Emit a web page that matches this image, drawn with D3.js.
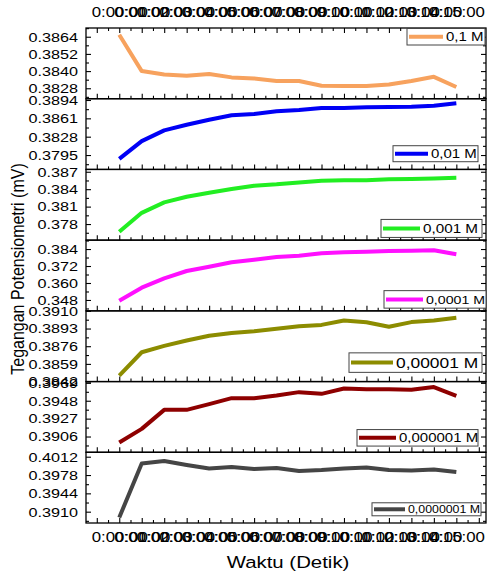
<!DOCTYPE html>
<html>
<head>
<meta charset="utf-8">
<script src="https://cdn.jsdelivr.net/npm/d3@7"></script>
<style>
  body { margin: 0; background: #fff; }
  text { font-family: "Liberation Sans", Arial, sans-serif; fill: #000; }
</style>
</head>
<body>
<svg id="chart" width="488" height="575"></svg>
<script>
// Time axis: one reading per step
const timeLabels = ["0:00:00","0:01:00","0:02:00","0:03:00","0:04:00","0:05:00","0:06:00","0:07:00",
                    "0:08:00","0:09:00","0:10:00","0:11:00","0:12:00","0:13:00","0:14:00","0:15:00"];
const steps = d3.range(timeLabels.length);

// Concentration series (legend names)
const seriesNames = ["0,1 M", "0,01 M", "0,001 M", "0,0001 M", "0,00001 M", "0,000001 M", "0,0000001 M"];
const seriesColors = ["#f7a25e", "#0000f5", "#22ee22", "#ff10ff", "#8c8c00", "#8e0000", "#454545"];

// Potentiometric voltage readings (mV)
const conc1e1 = [0.38654, 0.38400, 0.38376, 0.38367, 0.38379, 0.38356, 0.38349, 0.38331,
                 0.38331, 0.38298, 0.38296, 0.38296, 0.38307, 0.38331, 0.38360, 0.38289];
const conc1e2 = [0.37882, 0.38201, 0.38394, 0.38495, 0.38585, 0.38664, 0.38688, 0.38736,
                 0.38760, 0.38796, 0.38796, 0.38808, 0.38814, 0.38819, 0.38837, 0.38881];
const conc1e3 = [0.37666, 0.37993, 0.38172, 0.38269, 0.38338, 0.38402, 0.38459, 0.38483,
                 0.38517, 0.38545, 0.38552, 0.38552, 0.38569, 0.38574, 0.38586, 0.38597];
const conc1e4 = [0.34750, 0.35668, 0.36331, 0.36847, 0.37150, 0.37461, 0.37645, 0.37835,
                 0.37927, 0.38096, 0.38167, 0.38209, 0.38259, 0.38280, 0.38308, 0.38026];
const conc1e5 = [0.38478, 0.38702, 0.38763, 0.38815, 0.38861, 0.38886, 0.38904, 0.38928,
                 0.38953, 0.38965, 0.39008, 0.38990, 0.38947, 0.38992, 0.39008, 0.39033];
const conc1e6 = [0.38990, 0.39150, 0.39373, 0.39373, 0.39440, 0.39510, 0.39510, 0.39541,
                 0.39581, 0.39561, 0.39623, 0.39616, 0.39616, 0.39608, 0.39640, 0.39537];
const conc1e7 = [0.38992, 0.39994, 0.40040, 0.39966, 0.39901, 0.39929, 0.39892, 0.39910,
                 0.39855, 0.39873, 0.39901, 0.39920, 0.39873, 0.39864, 0.39883, 0.39836];

// Y tick labels per panel
const yTicks1 = ["0.3828", "0.3840", "0.3852", "0.3864"];
const yTicks2 = ["0.3795", "0.3828", "0.3861", "0.3894"];
const yTicks3 = ["0.378", "0.381", "0.384", "0.387"];
const yTicks4 = ["0.348", "0.360", "0.372", "0.384"];
const yTicks5 = ["0.3842", "0.3859", "0.3876", "0.3893", "0.3910"];
const yTicks6 = ["0.3906", "0.3927", "0.3948", "0.3969"];
const yTicks7 = ["0.3910", "0.3944", "0.3978", "0.4012"];

// Y ranges per panel
const yDomain1 = [0.38207, 0.38701];
const yDomain2 = [0.37691, 0.38963];
const yDomain3 = [0.37523, 0.38740];
const yDomain4 = [0.34031, 0.39028];
const yDomain5 = [0.38420, 0.39100];
const yDomain6 = [0.38875, 0.39705];
const yDomain7 = [0.38890, 0.40202];

const panels = [
  { values: conc1e1, ticks: yTicks1, domain: yDomain1 },
  { values: conc1e2, ticks: yTicks2, domain: yDomain2 },
  { values: conc1e3, ticks: yTicks3, domain: yDomain3 },
  { values: conc1e4, ticks: yTicks4, domain: yDomain4 },
  { values: conc1e5, ticks: yTicks5, domain: yDomain5 },
  { values: conc1e6, ticks: yTicks6, domain: yDomain6 },
  { values: conc1e7, ticks: yTicks7, domain: yDomain7 }
].map((p, i) => ({ ...p, name: seriesNames[i], color: seriesColors[i] }));

// Legend box layout inside each panel: [x0, x1, top offset, bottom offset, sample end, font size]
const legendLayout = [
  [407, 485, 0.5, 17, 443, 12.5],
  [393, 478, 47, 63, 428, 12.5],
  [381, 482, 50, 68, 420, 12.7],
  [384, 486, 50.5, 68, 423, 11.8],
  [349, 482, 42, 61.5, 393, 14.5],
  [357, 478, 48, 64.5, 396, 12.5],
  [372, 481, 50.5, 63.5, 405, 10.3]
];

const SX = 1.2; // horizontal glyph stretch
const W = 488, H = 575;
const plotLeft = 86, plotRight = 486, plotTop = 28, plotBottom = 523;
const ph = (plotBottom - plotTop) / panels.length;

const svg = d3.select("#chart");
svg.append("rect").attr("width", W).attr("height", H).attr("fill", "#fff");

const x = d3.scaleLinear().domain([-1.48, 16.32]).range([plotLeft, plotRight]);
const majorX = d3.range(-1, 17, 1);
const minorX = d3.range(-1.5, 16.6, 1).filter(v => v > -1.48 && v < 16.32);

function styleAxis(g) {
  g.select(".domain").remove();
  g.selectAll(".tick line").attr("stroke", "#000").attr("stroke-width", 1.1);
}

panels.forEach((p, i) => {
  const y0 = plotTop + i * ph, y1 = y0 + ph;
  const y = d3.scaleLinear().domain(p.domain).range([y1, y0]);
  const g = svg.append("g");

  const tickVals = p.ticks.map(Number);
  const step = tickVals[1] - tickVals[0];
  const minorY = [];
  for (let v = tickVals[0] - step / 2; v <= p.domain[1]; v += step) {
    if (v >= p.domain[0]) minorY.push(v);
  }

  // bottom edge ticks (inward)
  g.append("g").attr("transform", `translate(0,${y1})`)
    .call(d3.axisBottom(x).tickValues(majorX).tickSizeInner(-5).tickSizeOuter(0).tickFormat(""))
    .call(styleAxis);
  g.append("g").attr("transform", `translate(0,${y1})`)
    .call(d3.axisBottom(x).tickValues(minorX).tickSizeInner(-3).tickSizeOuter(0).tickFormat(""))
    .call(styleAxis);

  if (i === 0) {
    const ta = g.append("g").attr("transform", `translate(0,${y0})`)
      .call(d3.axisTop(x).tickValues(majorX).tickSizeInner(-5).tickSizeOuter(0).tickPadding(11)
        .tickFormat(d => (d >= 0 && d < timeLabels.length) ? timeLabels[d] : ""))
      .call(styleAxis);
    ta.selectAll("text").attr("font-size", 14).attr("transform", `scale(${SX},1)`);
    g.append("g").attr("transform", `translate(0,${y0})`)
      .call(d3.axisTop(x).tickValues(minorX).tickSizeInner(-3).tickSizeOuter(0).tickFormat(""))
      .call(styleAxis);
  }
  if (i === panels.length - 1) {
    const ba = g.append("g").attr("transform", `translate(0,${y1})`)
      .call(d3.axisBottom(x).tickValues(steps).tickSize(0).tickPadding(9)
        .tickFormat(d => timeLabels[d]))
      .call(styleAxis);
    ba.selectAll("text").attr("font-size", 14).attr("transform", `scale(${SX},1)`);
  }

  // left axis with labels, inward ticks
  const la = g.append("g").attr("transform", `translate(${plotLeft},0)`)
    .call(d3.axisLeft(y).tickValues(tickVals).tickSizeInner(-5).tickSizeOuter(0)
      .tickPadding(8 / SX).tickFormat((d, k) => p.ticks[k]))
    .call(styleAxis);
  la.selectAll("text").attr("font-size", 13.5).attr("transform", `scale(${SX},1)`);
  g.append("g").attr("transform", `translate(${plotLeft},0)`)
    .call(d3.axisLeft(y).tickValues(minorY).tickSizeInner(-3).tickSizeOuter(0).tickFormat(""))
    .call(styleAxis);

  // right axis ticks
  g.append("g").attr("transform", `translate(${plotRight},0)`)
    .call(d3.axisRight(y).tickValues(tickVals).tickSizeInner(-5).tickSizeOuter(0).tickFormat(""))
    .call(styleAxis);
  g.append("g").attr("transform", `translate(${plotRight},0)`)
    .call(d3.axisRight(y).tickValues(minorY).tickSizeInner(-3).tickSizeOuter(0).tickFormat(""))
    .call(styleAxis);

  // series line
  const line = d3.line().x((d, k) => x(steps[k])).y(d => y(d));
  g.append("path").datum(p.values)
    .attr("d", line)
    .attr("fill", "none")
    .attr("stroke", p.color)
    .attr("stroke-width", 4)
    .attr("stroke-linejoin", "round");

  // frame
  g.append("rect").attr("x", plotLeft).attr("y", y0).attr("width", plotRight - plotLeft).attr("height", ph)
    .attr("fill", "none").attr("stroke", "#000").attr("stroke-width", 1.3);

  // legend
  const [lx0, lx1, lt, lb, sEnd, fs] = legendLayout[i];
  const lg = g.append("g");
  lg.append("rect").attr("x", lx0).attr("y", y0 + lt).attr("width", lx1 - lx0).attr("height", lb - lt)
    .attr("fill", "#fff").attr("stroke", "#444").attr("stroke-width", 1);
  const ly = y0 + (lt + lb) / 2;
  lg.append("line").attr("x1", lx0 + 2).attr("x2", sEnd).attr("y1", ly).attr("y2", ly)
    .attr("stroke", p.color).attr("stroke-width", 4);
  lg.append("text").attr("transform", `translate(${sEnd + 3},${ly}) scale(${SX},1)`)
    .attr("dy", "0.36em").attr("font-size", fs).text(p.name);
});

// axis titles
svg.append("text")
  .attr("transform", `translate(24,269) scale(${SX},1) rotate(-90)`)
  .attr("text-anchor", "middle").attr("font-size", 16)
  .text("Tegangan Potensiometri (mV)");
svg.append("text")
  .attr("transform", `translate(288,568) scale(${SX},1)`)
  .attr("text-anchor", "middle").attr("font-size", 17)
  .text("Waktu (Detik)");
</script>
</body>
</html>
